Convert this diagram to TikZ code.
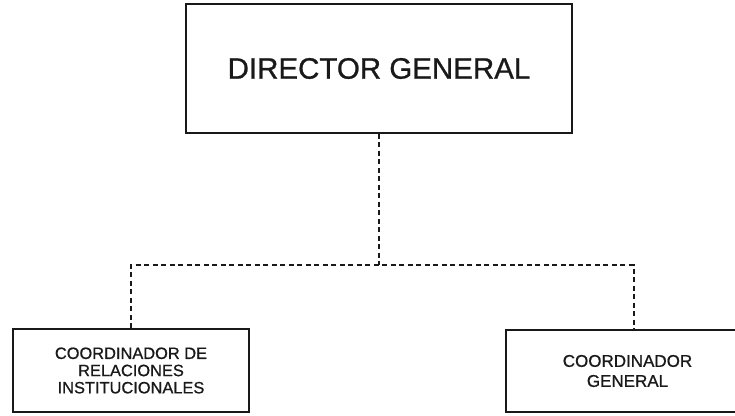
\documentclass[tikz,border=0pt]{standalone}
\usepackage{fontspec}
\setmainfont{Liberation Sans}
\newfontfamily\heavysans[FakeBold=0.8]{Liberation Sans}
\begin{document}
\begin{tikzpicture}[x=1pt,y=1pt,
  box/.style={draw=black!90, line width=1.7pt, align=center, inner sep=0pt, text=black!90},
  conn/.style={draw=black!90, line width=1.4pt, dash pattern=on 5pt off 3.5pt}]
\clip (0,0) rectangle (735,415);
\fill[white] (0,0) rectangle (735,415);
\node[box, minimum width=386, minimum height=129, font=\heavysans\fontsize{29.5}{32}\selectfont] (dg) at (379,346.5) {DIRECTOR GENERAL};
\node[box, minimum width=236, minimum height=83, font=\heavysans\fontsize{16.4}{17.2}\selectfont] (cr) at (131,44.5) {COORDINADOR DE\\RELACIONES\\INSTITUCIONALES};
\node[box, minimum width=243, minimum height=82, font=\heavysans\fontsize{17}{20}\selectfont] (cg) at (627.5,44) {COORDINADOR\\GENERAL};
\coordinate (bus) at (dg.south |- 0,150);
\draw[conn] (dg.south) -- (bus);
\draw[conn] (cr.north) |- (bus) -| ([xshift=6.3pt]cg.north);
\end{tikzpicture}
\end{document}
